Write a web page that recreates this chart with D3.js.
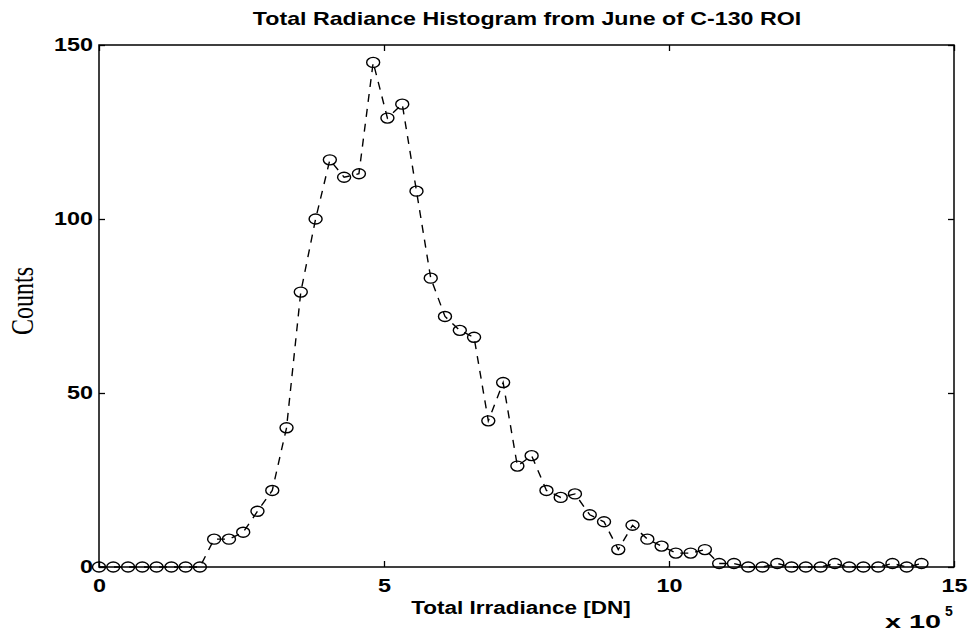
<!DOCTYPE html>
<html>
<head>
<meta charset="utf-8">
<script src="https://cdn.jsdelivr.net/npm/d3@7"></script>
<style>
    body { margin: 0; background: #fff; }
    .tick text { font-family: "Liberation Sans", Arial, sans-serif; font-weight: bold; font-size: 18px; fill: #000; }
    .tick line { stroke: #000; stroke-width: 1.3; }
    .frame { fill: none; stroke: #000; stroke-width: 1.5; }
    .line { fill: none; stroke: #000; stroke-width: 1.4; stroke-dasharray: 8,7; }
    .dot { fill: none; stroke: #000; stroke-width: 1.4; }
</style>
</head>
<body>
<script>
// histogram bin centres, in units of 10^5 DN
const binCenters = [
    0, 0.25, 0.51, 0.76, 1.01, 1.27, 1.52, 1.77, 2.02, 2.28,
    2.53, 2.78, 3.04, 3.29, 3.54, 3.80, 4.05, 4.30, 4.56, 4.81,
    5.06, 5.32, 5.57, 5.82, 6.07, 6.33, 6.58, 6.83, 7.09, 7.34,
    7.59, 7.85, 8.10, 8.35, 8.61, 8.86, 9.11, 9.36, 9.62, 9.87,
    10.12, 10.38, 10.63, 10.88, 11.14, 11.39, 11.64, 11.90, 12.15, 12.40,
    12.66, 12.91, 13.16, 13.41, 13.67, 13.92, 14.17, 14.43
];
// counts
const binCounts = [
    0, 0, 0, 0, 0, 0, 0, 0, 8, 8,
    10, 16, 22, 40, 79, 100, 117, 112, 113, 145,
    129, 133, 108, 83, 72, 68, 66, 42, 53, 29,
    32, 22, 20, 21, 15, 13, 5, 12, 8, 6,
    4, 4, 5, 1, 1, 0, 0, 1, 0, 0,
    0, 1, 0, 0, 0, 1, 0, 1
];
const xTicks = [0, 5, 10, 15];
const yTicks = [0, 50, 100, 150];

const titleText = "Total Radiance Histogram from June of C-130 ROI";
const xLabelText = "Total Irradiance [DN]";
const yLabelText = "Counts";

const hc = {};
hc.margin = { top: 45, right: 15, bottom: 65, left: 99 };
hc.width = 954 - 99;
hc.height = 567 - 45;

document.addEventListener("DOMContentLoaded", function() {

    hc.x = d3.scaleLinear().domain([0, 15]).range([0, hc.width]);
    hc.y = d3.scaleLinear().domain([0, 150]).range([hc.height, 0]);

    hc.data = binCenters.map((c, i) => ({ bin: c, count: binCounts[i] }));

    hc.createSVG();
    hc.drawAxes();
    hc.drawLine();
    hc.drawDots();
    hc.drawLabels();
});

/**
 * Create the svg and the inner plot group
 */
hc.createSVG = () => {
    hc.root = d3.select("body").append("svg")
        .attr("width", 969)
        .attr("height", 632);

    hc.svg = hc.root.append("g")
        .attr("transform", "translate(" + hc.margin.left + "," + hc.margin.top + ")");
}

/**
 * The scanned figure is wider than it is tall, so stretch text horizontally
 * @param sel: selection of text nodes
 * @param factor: stretch factor
 */
hc.stretch = (sel, factor) => {
    sel.each(function() {
        const w = this.getComputedTextLength();
        d3.select(this)
            .attr("textLength", w * factor)
            .attr("lengthAdjust", "spacingAndGlyphs");
    });
}

/**
 * Box with inward ticks on all four sides, labels only bottom and left
 */
hc.drawAxes = () => {
    const bottom = hc.svg.append("g")
        .attr("transform", "translate(0," + hc.height + ")")
        .call(d3.axisBottom(hc.x).tickValues(xTicks).tickSizeInner(-6).tickSizeOuter(0).tickPadding(12));

    const left = hc.svg.append("g")
        .call(d3.axisLeft(hc.y).tickValues(yTicks).tickSizeInner(-6).tickSizeOuter(0).tickPadding(6));

    hc.svg.append("g")
        .call(d3.axisTop(hc.x).tickValues(xTicks).tickSizeInner(-6).tickSizeOuter(0).tickFormat(""));

    hc.svg.append("g")
        .attr("transform", "translate(" + hc.width + ",0)")
        .call(d3.axisRight(hc.y).tickValues(yTicks).tickSizeInner(-6).tickSizeOuter(0).tickFormat(""));

    hc.svg.selectAll(".domain").remove();

    hc.stretch(bottom.selectAll("text"), 1.3);
    hc.stretch(left.selectAll("text"), 1.3);

    hc.svg.append("rect")
        .attr("class", "frame")
        .attr("width", hc.width)
        .attr("height", hc.height);
}

/**
 * Dashed line through the bin counts
 */
hc.drawLine = () => {
    const line = d3.line()
        .x(d => hc.x(d.bin))
        .y(d => hc.y(d.count));

    hc.svg.append("path")
        .datum(hc.data)
        .attr("class", "line")
        .attr("d", line);
}

/**
 * Open circle markers (ellipses because of the scan's aspect)
 */
hc.drawDots = () => {
    hc.svg.selectAll(".dot")
        .data(hc.data)
        .enter().append("ellipse")
        .attr("class", "dot")
        .attr("cx", d => hc.x(d.bin))
        .attr("cy", d => hc.y(d.count))
        .attr("rx", 6.5)
        .attr("ry", 5);
}

/**
 * Title, axis labels and the x 10^5 multiplier
 */
hc.drawLabels = () => {
    const title = hc.root.append("text")
        .attr("x", 527)
        .attr("y", 25)
        .attr("text-anchor", "middle")
        .style("font-family", "Liberation Sans, Arial, sans-serif")
        .style("font-weight", "bold")
        .style("font-size", "19px")
        .text(titleText);
    hc.stretch(title, 1.22);

    const xLabel = hc.root.append("text")
        .attr("x", 521)
        .attr("y", 614)
        .attr("text-anchor", "middle")
        .style("font-family", "Liberation Sans, Arial, sans-serif")
        .style("font-weight", "bold")
        .style("font-size", "18px")
        .text(xLabelText);
    hc.stretch(xLabel, 1.25);

    hc.root.append("text")
        .attr("transform", "translate(33,301) scale(1.3,1) rotate(-90)")
        .attr("text-anchor", "middle")
        .style("font-family", "Liberation Serif, Times New Roman, serif")
        .style("font-size", "24px")
        .text(yLabelText);

    hc.root.append("text")
        .attr("x", 885)
        .attr("y", 628)
        .attr("textLength", 56)
        .attr("lengthAdjust", "spacingAndGlyphs")
        .style("font-family", "Liberation Sans, Arial, sans-serif")
        .style("font-weight", "bold")
        .style("font-size", "18px")
        .text("x 10");

    hc.root.append("text")
        .attr("x", 945)
        .attr("y", 616)
        .style("font-family", "Liberation Sans, Arial, sans-serif")
        .style("font-weight", "bold")
        .style("font-size", "14px")
        .text("5");
}
</script>
</body>
</html>
